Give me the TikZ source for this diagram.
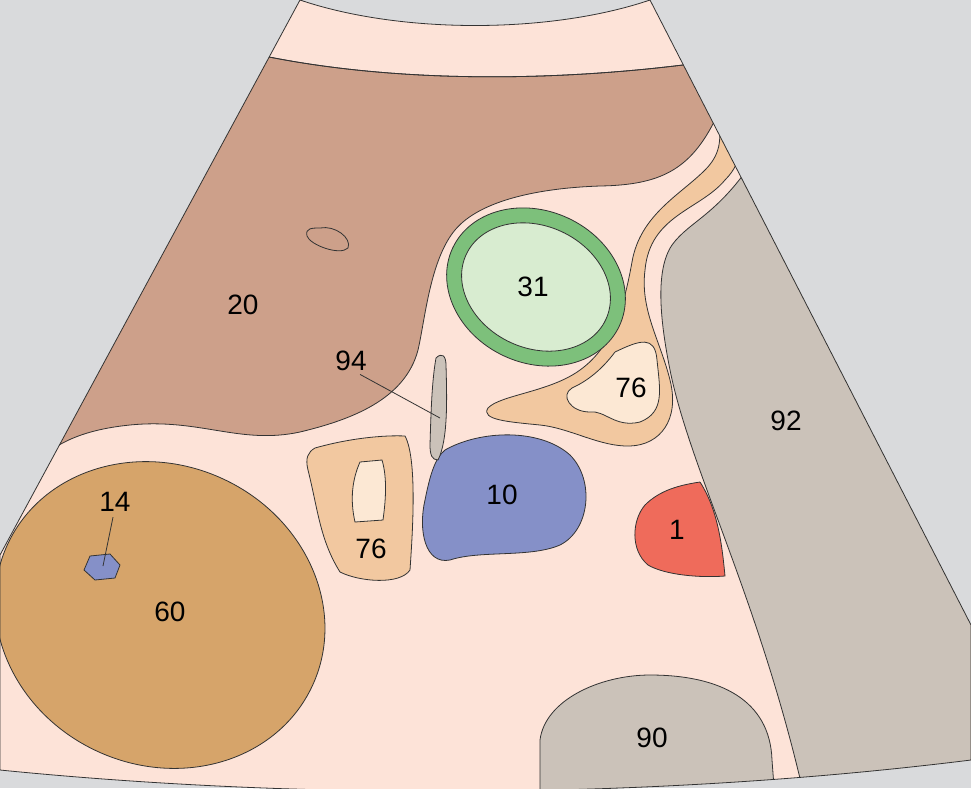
\documentclass[tikz,border=0pt]{standalone}
\usepackage{fontspec}
\setmainfont{Liberation Sans}
\definecolor{bggray}{HTML}{D9DADC}
\definecolor{skin}{HTML}{FDE3D8}
\definecolor{liver}{HTML}{CDA08A}
\definecolor{kidney}{HTML}{D6A46A}
\definecolor{ring}{HTML}{7DC07B}
\definecolor{lumen}{HTML}{D8ECD0}
\definecolor{vessel}{HTML}{8590C8}
\definecolor{artery}{HTML}{EF6B5B}
\definecolor{organ}{HTML}{CBC2B9}
\definecolor{pancreas}{HTML}{F2C8A0}
\definecolor{duct}{HTML}{FCE8D4}
\tikzset{
  part/.style={draw=black!80,line width=0.8pt},
  num/.style={font=\fontsize{28}{30}\selectfont}
}
\begin{document}
\begin{tikzpicture}[x=1pt,y=-1pt]
  \useasboundingbox (0,0) rectangle (971,788);
  \fill[bggray] (0,0) rectangle (971,788);
  \def\fanpath{(300,0) .. controls (400,34) and (550,34) .. (650,0) -- (971,625) -- (971,760)
    .. controls (650,800) and (300,800) .. (0,770) -- (0,555) -- cycle}
  \fill[skin] \fanpath;
  \begin{scope}
    \clip \fanpath;
    % liver
    \fill[liver,part] (200,40) .. controls (350,85) and (550,85) .. (720,60) -- (715,120)
      .. controls (690,170) and (660,185) .. (600,186) .. controls (540,188) and (480,200) .. (455,230)
      .. controls (430,260) and (425,320) .. (418,350) .. controls (405,400) and (350,420) .. (300,432)
      .. controls (240,445) and (200,418) .. (130,425) .. controls (80,430) and (50,445) .. (30,470) -- (0,470) -- (0,40) -- cycle;
    \draw[part] (200,40) .. controls (350,85) and (550,85) .. (720,60);
    \draw[part] (320,228) .. controls (335,225) and (352,238) .. (348,248) .. controls (340,256) and (310,245) .. (307,236) .. controls (305,228) and (312,228) .. (320,228);
    % kidney
    \fill[kidney,part,rotate around={-25:(160,615)}] (160,615) ellipse (168 and 150);
    % stomach wall
    \fill[organ,part] (760,150) .. controls (720,215) and (690,220) .. (672,245)
      .. controls (655,270) and (660,320) .. (670,370) .. controls (690,470) and (760,600) .. (805,800)
      -- (980,800) -- (980,560) -- cycle;
    % pancreas band
    \fill[pancreas,part] (718,118) .. controls (745,135) and (745,160) .. (725,180)
      .. controls (700,210) and (650,215) .. (645,270) .. controls (640,310) and (660,340) .. (670,380)
      .. controls (680,420) and (660,445) .. (630,446) .. controls (600,447) and (570,428) .. (540,425)
      .. controls (510,422) and (480,420) .. (488,408) .. controls (500,395) and (550,392) .. (580,370)
      .. controls (615,345) and (625,300) .. (632,262) .. controls (640,215) and (680,195) .. (705,170)
      .. controls (720,155) and (722,140) .. (718,118);
    \fill[duct,part] (615,352) .. controls (640,340) and (655,335) .. (657,360)
      .. controls (660,390) and (665,412) .. (640,422) .. controls (615,428) and (605,410) .. (590,412)
      .. controls (570,412) and (560,395) .. (572,388) .. controls (585,382) and (600,372) .. (615,352);
    % bottom organ
    \fill[organ,part] (540,800) -- (540,740) .. controls (545,700) and (600,675) .. (650,675)
      .. controls (720,675) and (770,700) .. (772,760) -- (775,800) -- cycle;
  \end{scope}
  \draw[part] \fanpath;
  % vessels
  \fill[ring,part,rotate around={-25:(536,287)}] (536,287) ellipse (92 and 76);
  \fill[lumen,part,rotate around={-25:(536,287)}] (536,287) ellipse (77 and 61);
  \fill[vessel,part] (445,450) .. controls (480,430) and (540,428) .. (570,455)
    .. controls (595,480) and (590,530) .. (560,545) .. controls (530,558) and (480,550) .. (450,560)
    .. controls (425,565) and (418,530) .. (425,500) .. controls (430,475) and (435,458) .. (445,450);
  \fill[artery,part] (700,482) .. controls (718,510) and (722,545) .. (725,576)
    .. controls (700,578) and (665,575) .. (648,565) .. controls (630,550) and (632,520) .. (645,505)
    .. controls (660,490) and (680,485) .. (700,482);
  \fill[pancreas,part] (315,448) .. controls (350,438) and (385,435) .. (405,436)
    .. controls (418,460) and (412,540) .. (410,570) .. controls (400,585) and (360,582) .. (340,572)
    .. controls (320,540) and (318,510) .. (308,470) .. controls (305,458) and (308,452) .. (315,448);
  \fill[duct,part] (360,462) -- (382,460) .. controls (388,480) and (385,505) .. (383,520)
    -- (355,522) .. controls (350,500) and (352,480) .. (360,462) -- cycle;
  \fill[organ,part] (436,358) .. controls (442,352) and (446,356) .. (446,365)
    .. controls (447,400) and (448,440) .. (438,460) .. controls (432,460) and (430,455) .. (430,445)
    .. controls (431,410) and (432,380) .. (436,358);
  \fill[vessel,part] (90,556) -- (110,554) -- (120,565) -- (115,578) -- (95,580) -- (84,570) -- cycle;
  % labels
  \node[num] (lab20) at (243,305) {20};
  \node[num] (lab31) at (533,287) {31};
  \node[num] (lab76a) at (631,388) {76};
  \node[num] (lab92) at (786,421) {92};
  \node[num] (lab10) at (502,495) {10};
  \node[num] (lab1) at (677,530) {1};
  \node[num] (lab76b) at (371,549) {76};
  \node[num] (lab60) at (170,612) {60};
  \node[num] (lab90) at (652,738) {90};
  \node[num] (lab14) at (115,502) {14};
  \node[num] (lab94) at (351,361) {94};
  \coordinate (c14) at (103,566);
  \coordinate (c94) at (440,418);
  \draw[black!80,line width=0.8pt] (lab14.south) ++(-2,2) -- (c14);
  \draw[black!80,line width=0.8pt] (lab94.south east) ++(-10,0) -- (c94);
\end{tikzpicture}
\end{document}
